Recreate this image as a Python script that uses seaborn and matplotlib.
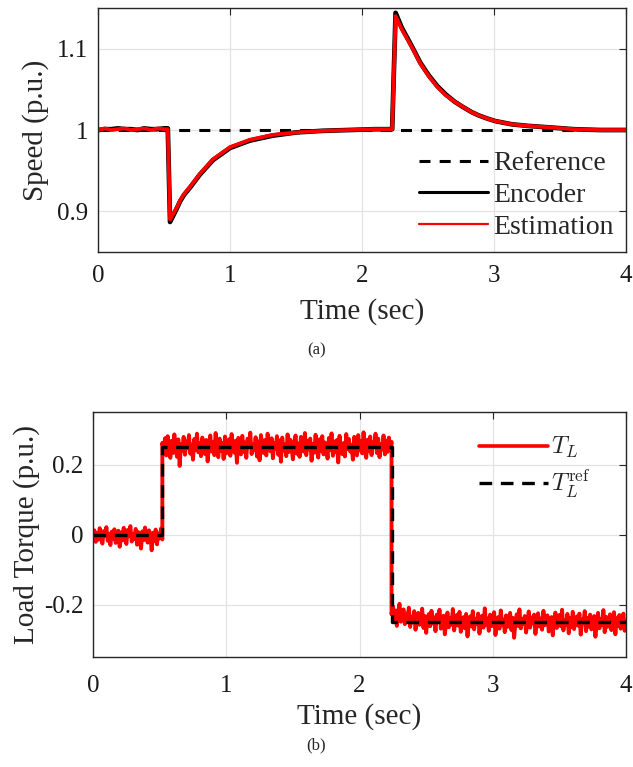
import numpy as np
import pandas as pd
import matplotlib
matplotlib.use("Agg")
import matplotlib.pyplot as plt
from matplotlib.lines import Line2D
import seaborn as sns

# ---------------- data: (a) speed ----------------
speed_time = [0.00, 0.05, 0.10, 0.15, 0.20, 0.25, 0.30, 0.35, 0.40, 0.45, 0.50,
              0.528, 0.545, 0.57, 0.60, 0.62, 0.65, 0.70, 0.77, 0.87,
              1.00, 1.15, 1.32, 1.50, 1.70, 1.90, 2.10, 2.228,
              2.254, 2.30, 2.38, 2.44, 2.506, 2.57, 2.632, 2.70, 2.757, 2.83, 2.883, 2.95, 3.009,
              3.134, 3.26, 3.437, 3.60, 3.80, 4.00]
speed_encoder = [1.000, 1.001, 1.001, 1.002, 1.001, 1.001, 1.000, 1.002, 1.001, 1.001, 1.002,
                 1.002, 0.887, 0.895, 0.905, 0.912, 0.920, 0.930, 0.945, 0.963,
                 0.978, 0.987, 0.993, 0.997, 0.999, 1.000, 1.001, 1.001,
                 1.144, 1.126, 1.102, 1.083, 1.067, 1.054, 1.044, 1.035, 1.029, 1.022, 1.018, 1.014, 1.011,
                 1.007, 1.005, 1.003, 1.001, 1.000, 1.000]
speed_estimation = [1.000, 1.002, 1.000, 1.001, 1.002, 1.000, 1.001, 1.002, 1.000, 1.002, 1.001,
                    1.001, 0.890, 0.897, 0.906, 0.913, 0.921, 0.931, 0.946, 0.964,
                    0.979, 0.988, 0.994, 0.997, 0.999, 1.000, 1.001, 1.001,
                    1.140, 1.124, 1.101, 1.082, 1.066, 1.053, 1.043, 1.035, 1.029, 1.022, 1.018, 1.014, 1.011,
                    1.007, 1.005, 1.003, 1.001, 1.000, 1.000]
speed_ref_time = [0.0, 4.0]
speed_ref = [1.0, 1.0]

# ---------------- data: (b) load torque (0.01 s apart) ----------------
torque_seg_a = [
    -0.005, 0.012, -0.021, 0.004, -0.015, 0.018, -0.009, -0.026, 0.010, -0.003,
    0.021, -0.018, 0.002, -0.030, 0.008, -0.012, 0.015, -0.024, -0.001, 0.011,
    -0.035, 0.006, -0.017, 0.019, -0.008, -0.027, 0.013, -0.004, 0.024, -0.020,
    0.001, -0.013, 0.016, -0.029, 0.007, -0.010, -0.040, 0.009, -0.016, 0.020,
    -0.006, -0.023, 0.012, -0.002, -0.045, 0.005, -0.019, 0.014, -0.028, 0.003,
    -0.011, 0.017, -0.014]
torque_seg_b = [
    0.262, 0.238, 0.275, 0.226, 0.281, 0.244, 0.219, 0.268, 0.233, 0.286,
    0.251, 0.222, 0.272, 0.196, 0.259, 0.240, 0.279, 0.228, 0.266, 0.247,
    0.284, 0.231, 0.257, 0.214, 0.273, 0.242, 0.288, 0.235, 0.261, 0.224,
    0.277, 0.249, 0.230, 0.270, 0.209, 0.255, 0.283, 0.237, 0.264, 0.227,
    0.290, 0.245, 0.221, 0.274, 0.239, 0.262, 0.216, 0.280, 0.232, 0.258,
    0.272, 0.225, 0.287, 0.243, 0.234, 0.268, 0.205, 0.276, 0.248, 0.229,
    0.282, 0.236, 0.263, 0.219, 0.274, 0.252, 0.291, 0.230, 0.259, 0.241,
    0.278, 0.223, 0.266, 0.212, 0.284, 0.246, 0.233, 0.270, 0.226, 0.288,
    0.255, 0.238, 0.275, 0.218, 0.262, 0.244, 0.281, 0.228, 0.269, 0.208,
    0.277, 0.240, 0.257, 0.224, 0.286, 0.236, 0.271, 0.247, 0.215, 0.265,
    0.283, 0.231, 0.260, 0.222, 0.279, 0.250, 0.237, 0.290, 0.227, 0.268,
    0.243, 0.274, 0.211, 0.258, 0.234, 0.285, 0.246, 0.220, 0.272, 0.239,
    0.281, 0.229, 0.263, 0.252, 0.217, 0.276, 0.241, 0.289, 0.225, 0.266,
    0.235, 0.270, 0.206, 0.282, 0.248, 0.230, 0.261, 0.223, 0.287, 0.244,
    0.273, 0.237, 0.256, 0.214, 0.279, 0.249, 0.226, 0.284, 0.240, 0.267,
    0.232, 0.292, 0.245, 0.219, 0.271, 0.238, 0.280, 0.227, 0.263, 0.251,
    0.288, 0.233, 0.274, 0.221, 0.259, 0.243, 0.283, 0.229, 0.268, 0.236,
    0.277, 0.247, 0.265]
torque_seg_c = [
    -0.228, -0.205, -0.243, -0.217, -0.261, -0.222, -0.198, -0.249, -0.231, -0.214,
    -0.256, -0.226, -0.240, -0.209, -0.264, -0.235, -0.251, -0.219, -0.272, -0.238,
    -0.224, -0.258, -0.246, -0.212, -0.267, -0.233, -0.281, -0.241, -0.227, -0.262,
    -0.218, -0.254, -0.237, -0.276, -0.229, -0.248, -0.215, -0.269, -0.243, -0.232,
    -0.285, -0.252, -0.223, -0.265, -0.239, -0.258, -0.213, -0.274, -0.246, -0.230,
    -0.260, -0.221, -0.278, -0.244, -0.236, -0.268, -0.227, -0.291, -0.250, -0.234,
    -0.263, -0.219, -0.271, -0.241, -0.255, -0.226, -0.283, -0.247, -0.232, -0.266,
    -0.211, -0.258, -0.240, -0.275, -0.229, -0.262, -0.245, -0.222, -0.287, -0.252,
    -0.236, -0.269, -0.217, -0.257, -0.243, -0.279, -0.231, -0.264, -0.248, -0.224,
    -0.273, -0.238, -0.295, -0.251, -0.228, -0.261, -0.214, -0.268, -0.242, -0.256,
    -0.233, -0.280, -0.245, -0.220, -0.266, -0.237, -0.254, -0.229, -0.284, -0.249,
    -0.225, -0.263, -0.240, -0.272, -0.218, -0.259, -0.246, -0.231, -0.277, -0.253,
    -0.236, -0.288, -0.242, -0.223, -0.267, -0.250, -0.230, -0.262, -0.215, -0.274,
    -0.244, -0.257, -0.227, -0.282, -0.239, -0.265, -0.221, -0.270, -0.248, -0.234,
    -0.260, -0.226, -0.286, -0.243, -0.252, -0.219, -0.276, -0.238, -0.263, -0.229,
    -0.271, -0.245, -0.233, -0.292, -0.255, -0.224, -0.268, -0.241, -0.259, -0.216,
    -0.279, -0.235, -0.264, -0.247, -0.228, -0.273, -0.250, -0.222, -0.285, -0.239,
    -0.261, -0.230, -0.269, -0.244, -0.226, -0.275, -0.248]
torque_seg_bounds = [0.0, 0.52, 2.24, 4.0]
torque_ref_time = [0.0, 0.52, 0.52, 2.24, 2.24, 4.0]
torque_ref = [0.0, 0.0, 0.25, 0.25, -0.25, -0.25]

x_ticks = [0, 1, 2, 3, 4]
x_ticklabels = ["0", "1", "2", "3", "4"]
speed_yticks = [0.9, 1.0, 1.1]
speed_yticklabels = ["0.9", "1", "1.1"]
torque_yticks = [-0.2, 0.0, 0.2]
torque_yticklabels = ["-0.2", "0", "0.2"]

# ---------------- style ----------------
sns.set_theme(style="white")
plt.rcParams["font.family"] = ["Liberation Serif", "DejaVu Serif"]
plt.rcParams["mathtext.fontset"] = "cm"
plt.rcParams["axes.unicode_minus"] = False

RED = "#ff0000"
GRID = "#e3e3e3"
SPINE = "#262626"
TICK_FS = 18
LABEL_FS = 21
LEG_FS = 20

fig = plt.figure(figsize=(6.33, 7.67), dpi=100)
ax1 = fig.add_axes([0.155, 0.6714, 0.834, 0.3182])
ax2 = fig.add_axes([0.147, 0.1434, 0.842, 0.3194])

def style_axes(ax, xpad):
    ax.grid(True, color=GRID, linewidth=0.9)
    ax.set_axisbelow(True)
    for s in ax.spines.values():
        s.set_color(SPINE)
        s.set_linewidth(1.0)
    ax.tick_params(direction="in", top=True, right=True, length=5, width=0.8,
                   colors=SPINE, labelcolor="#1a1a1a", labelsize=TICK_FS)
    ax.tick_params(axis="x", pad=xpad)
    ax.tick_params(axis="y", pad=7)
    ax.set_xlim(0, 4)
    ax.set_xticks(x_ticks)
    ax.set_xticklabels(x_ticklabels)

# ---- (a) ----
df_ref = pd.DataFrame({"t": speed_ref_time, "v": speed_ref})
df_enc = pd.DataFrame({"t": speed_time, "v": speed_encoder})
df_est = pd.DataFrame({"t": speed_time, "v": speed_estimation})
sns.lineplot(data=df_ref, x="t", y="v", ax=ax1, color="black", linewidth=2.2,
             estimator=None, sort=False)
ax1.lines[-1].set_dashes((3.6, 3.0))
sns.lineplot(data=df_enc, x="t", y="v", ax=ax1, color="black", linewidth=3.4,
             estimator=None, sort=False)
sns.lineplot(data=df_est, x="t", y="v", ax=ax1, color=RED, linewidth=2.7,
             estimator=None, sort=False)
style_axes(ax1, 9)
ax1.set_ylim(0.85, 1.15)
ax1.set_yticks(speed_yticks)
ax1.set_yticklabels(speed_yticklabels)
ax1.set_xlabel("Time (sec)", fontsize=LABEL_FS, labelpad=8)
ax1.set_ylabel("Speed (p.u.)", fontsize=LABEL_FS, labelpad=6)
h1 = [Line2D([], [], color="black", lw=2.2, dashes=(3.6, 3.0)),
      Line2D([], [], color="black", lw=2.2),
      Line2D([], [], color=RED, lw=1.6)]
ax1.legend(h1, ["Reference", "Encoder", "Estimation"], loc="lower right",
           frameon=False, fontsize=LEG_FS, handlelength=2.5, handletextpad=0.18,
           labelspacing=0.22, borderaxespad=0.05)

# ---- (b) ----
torque_time = np.concatenate([
    np.linspace(torque_seg_bounds[0], torque_seg_bounds[1], len(torque_seg_a)),
    np.linspace(torque_seg_bounds[1], torque_seg_bounds[2], len(torque_seg_b)),
    np.linspace(torque_seg_bounds[2], torque_seg_bounds[3], len(torque_seg_c)),
])
torque_vals = torque_seg_a + torque_seg_b + torque_seg_c
df_tq = pd.DataFrame({"t": torque_time, "v": torque_vals})
df_tref = pd.DataFrame({"t": torque_ref_time, "v": torque_ref})
sns.lineplot(data=df_tq, x="t", y="v", ax=ax2, color=RED, linewidth=2.8,
             estimator=None, sort=False)
sns.lineplot(data=df_tref, x="t", y="v", ax=ax2, color="black", linewidth=2.4,
             estimator=None, sort=False)
ax2.lines[-1].set_dashes((3.8, 2.6))
style_axes(ax2, 13)
ax2.set_ylim(-0.35, 0.35)
ax2.set_yticks(torque_yticks)
ax2.set_yticklabels(torque_yticklabels)
ax2.set_xlabel("Time (sec)", fontsize=LABEL_FS, labelpad=4)
ax2.set_ylabel("Load Torque (p.u.)", fontsize=LABEL_FS, labelpad=3)
h2 = [Line2D([], [], color=RED, lw=2.6),
      Line2D([], [], color="black", lw=2.4, dashes=(3.8, 2.6))]
ax2.legend(h2, [r"$T_L$", r"$T_L^{\mathrm{ref}}$"], loc="upper left",
           bbox_to_anchor=(0.705, 0.945),
           frameon=False, fontsize=17.5, handlelength=2.85, handletextpad=0.15,
           labelspacing=0.3, borderaxespad=0.0)

fig.text(0.5, 1 - 350 / 767, "(a)", ha="center", va="center", fontsize=12)
fig.text(0.5, 1 - 745 / 767, "(b)", ha="center", va="center", fontsize=12)

fig.savefig("out.png", dpi=100)
